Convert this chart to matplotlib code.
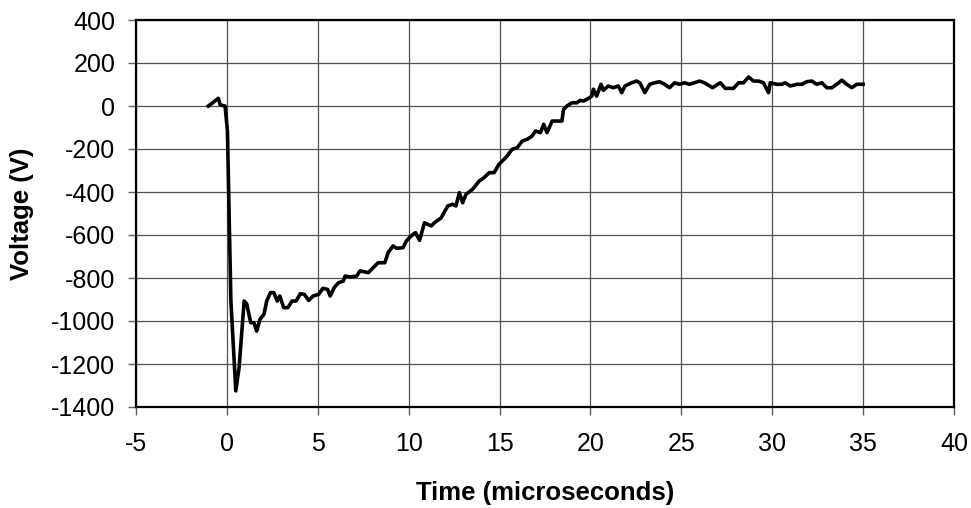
import matplotlib
matplotlib.use("Agg")
import matplotlib.pyplot as plt

# waveform (time in microseconds, voltage in V)
time_us = [-1.02, -0.78, -0.47, -0.37, -0.1, 0.03, 0.22, 0.49, 0.67, 0.95,
           1.09, 1.31, 1.49, 1.64, 1.82, 2.04, 2.19, 2.4, 2.58, 2.77,
           2.91, 3.13, 3.35, 3.59, 3.81, 4.04, 4.26, 4.5, 4.74, 5.05,
           5.28, 5.54, 5.68, 5.9, 6.14, 6.41, 6.5, 6.78, 7.14, 7.32,
           7.78, 8.05, 8.32, 8.69, 8.87, 9.14, 9.33, 9.69, 9.87, 10.05,
           10.24, 10.38, 10.6, 10.87, 11.24, 11.42, 11.79, 12.15, 12.42, 12.6,
           12.79, 12.97, 13.15, 13.51, 13.88, 14.15, 14.43, 14.7, 14.97, 15.34,
           15.7, 15.97, 16.25, 16.52, 16.79, 16.98, 17.25, 17.43, 17.61, 17.89,
           18.43, 18.52, 18.71, 18.98, 19.25, 19.43, 19.62, 19.8, 20.07, 20.16,
           20.34, 20.58, 20.71, 20.98, 21.26, 21.53, 21.72, 21.9, 22.26, 22.53,
           22.72, 22.99, 23.26, 23.53, 23.81, 24.08, 24.35, 24.63, 24.9, 25.17,
           25.45, 25.72, 26.0, 26.27, 26.72, 27.0, 27.14, 27.42, 27.87, 28.15,
           28.42, 28.7, 28.97, 29.25, 29.52, 29.8, 29.89, 30.26, 30.53, 30.71,
           30.99, 31.36, 31.63, 31.9, 32.18, 32.45, 32.73, 33.0, 33.28, 33.55,
           33.83, 34.1, 34.38, 34.65, 35.0]
voltage_v = [0, 15, 36, 5, 0, -116, -907, -1325, -1217, -907,
             -921, -1008, -1008, -1047, -992, -969, -907, -868, -868, -907,
             -884, -938, -938, -907, -907, -873, -876, -904, -884, -876,
             -848, -853, -884, -845, -822, -814, -791, -795, -791, -767,
             -775, -752, -729, -729, -682, -651, -662, -659, -628, -612,
             -597, -589, -625, -543, -558, -543, -520, -465, -457, -465,
             -403, -450, -411, -388, -349, -333, -310, -310, -271, -240,
             -201, -194, -163, -155, -140, -116, -124, -85, -124, -70,
             -70, -16, 0, 15, 15, 26, 23, 31, 46, 78,
             46, 101, 73, 93, 85, 93, 62, 93, 108, 116,
             108, 62, 101, 108, 113, 101, 85, 108, 101, 108,
             101, 108, 116, 108, 85, 101, 108, 82, 82, 108,
             108, 135, 116, 116, 108, 62, 108, 101, 101, 108,
             93, 101, 101, 113, 116, 101, 108, 85, 85, 101,
             120, 101, 85, 101, 101]

x_ticks = list(range(-5, 41, 5))
y_ticks = list(range(-1400, 401, 200))

plt.rcParams["font.family"] = ["Liberation Sans", "DejaVu Sans"]
plt.rcParams["axes.unicode_minus"] = False

fig = plt.figure(figsize=(9.71, 5.08), dpi=100)
ax = fig.add_axes([136 / 971, 1 - 407 / 508, (954 - 136) / 971, (407 - 20) / 508])

ax.plot(time_us, voltage_v, color="black", linewidth=2.6, solid_joinstyle="round")

ax.set_xlim(-5, 40)
ax.set_ylim(-1400, 400)
ax.set_xticks(x_ticks)
ax.set_yticks(y_ticks)
ax.grid(True, color="#505050", linewidth=0.9)
ax.set_axisbelow(True)
for s in ax.spines.values():
    s.set_linewidth(1.6)
    s.set_color("black")
ax.tick_params(direction="out", length=6, width=1, color="#606060",
               labelsize=18, pad=9)
ax.tick_params(axis="x", pad=12)

ax.set_xlabel("Time (microseconds)", fontsize=18.5, fontweight="bold")
ax.set_ylabel("Voltage (V)", fontsize=18.5, fontweight="bold")
ax.xaxis.set_label_coords(0.5, (407 - 493) / 387)
ax.xaxis.label.set_va("center")
ax.yaxis.set_label_coords((22 - 136) / 818, 0.5)
ax.yaxis.label.set_va("center")

fig.savefig("out.png", dpi=100)
